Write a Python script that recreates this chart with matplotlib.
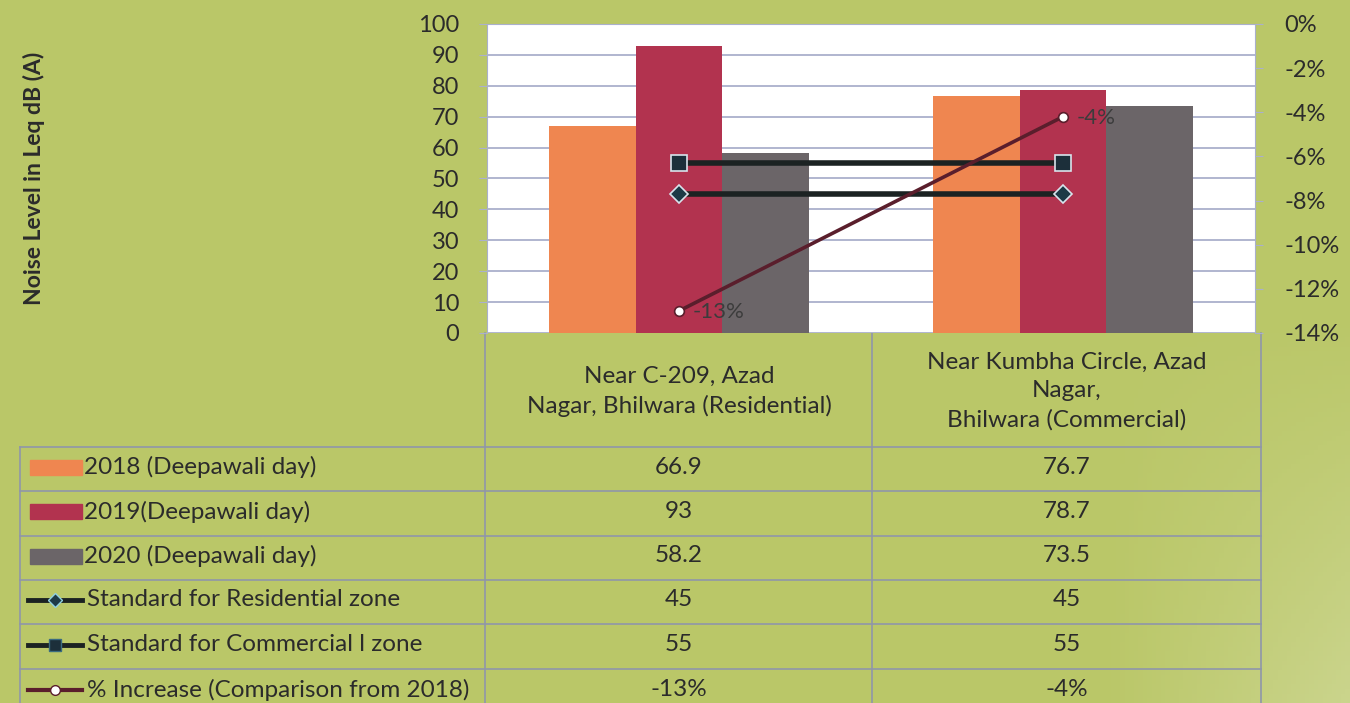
import numpy as np
import matplotlib.pyplot as plt
from matplotlib.patches import Rectangle

plt.rcParams['font.family'] = ['Lato', 'DejaVu Sans']

# data
sites = ["Near C-209, Azad\nNagar, Bhilwara (Residential)",
         "Near Kumbha Circle, Azad\nNagar,\nBhilwara (Commercial)"]
series_names = ["2018 (Deepawali day)", "2019(Deepawali day)", "2020 (Deepawali day)"]
noise_2018 = [66.9, 76.7]
noise_2019 = [93, 78.7]
noise_2020 = [58.2, 73.5]
std_residential = [45, 45]
std_commercial = [55, 55]
pct_increase = [-0.13, -0.042]
pct_labels = ["-13%", "-4%"]
line_names = ["Standard for Residential zone", "Standard for Commercial l zone",
              "% Increase (Comparison from 2018)"]
left_ticks = list(range(0, 101, 10))
right_ticks = [0, -0.02, -0.04, -0.06, -0.08, -0.10, -0.12, -0.14]

bar_colors = ['#ef8650', '#b2334f', '#6b6568']
txt = '#2b2b2b'
grid_c = '#aab0cc'
table_c = '#8f96aa'
fs_tab = 17.5

W, H = 1350, 703
fig = plt.figure(figsize=(W / 100, H / 100), dpi=100)

# background in pixel coordinates
bg = fig.add_axes([0, 0, 1, 1])
bg.set_xlim(0, W)
bg.set_ylim(H, 0)
bg.axis('off')
yy, xx = np.mgrid[0:1:150j, 0:1:300j]
base = np.array([186, 199, 104]) / 255
light = np.clip((xx - 0.82) * 3, 0, 1) * np.clip((yy - 0.45) * 1.8, 0, 1) * 0.45
img = base[None, None, :] * (1 - light[..., None]) + light[..., None]
bg.imshow(img, extent=[0, W, H, 0], aspect='auto', zorder=0)

# main chart
ax = fig.add_axes([487 / W, 1 - 333 / H, 768 / W, 309 / H])
ax.set_zorder(2)
ax.set_facecolor('white')
x = np.arange(len(sites))
w = 0.226
for i, vals in enumerate([noise_2018, noise_2019, noise_2020]):
    ax.bar(x + (i - 1) * w, vals, w, color=bar_colors[i], zorder=2)
ax.plot(x, std_commercial, color='#1b2222', lw=4, marker='s', ms=11,
        mfc='#1c2f3a', mec='#d8e4ec', mew=1.2, zorder=3)
ax.plot(x, std_residential, color='#1b2222', lw=4, marker='D', ms=9,
        mfc='#1d3a46', mec='#d8e4ec', mew=1.2, zorder=3)
ax.set_xlim(-0.5, 1.5)
ax.set_ylim(0, 100)
ax.set_yticks(left_ticks)
ax.set_yticklabels([str(v) for v in left_ticks], fontsize=17, color=txt)
ax.set_xticks([])
ax.grid(axis='y', color=grid_c, lw=1.3)
ax.set_axisbelow(True)
ax.tick_params(axis='y', length=6, color=grid_c, pad=14)
for s in ax.spines.values():
    s.set_color(grid_c)
ax.spines['bottom'].set_visible(False)
ax.set_ylabel("Noise Level in Leq dB (A)", fontsize=16.5, fontweight='bold', color=txt)
ax.yaxis.set_label_coords(-442 / 768, 0.5)

ax2 = ax.twinx()
ax2.plot(x, pct_increase, color='#5a1e2c', lw=2.6, marker='o', ms=7,
         mfc='white', mec='#5a1e2c', mew=1.2, zorder=4)
for xi, yi, lab in zip(x, pct_increase, pct_labels):
    ax2.annotate(lab, (xi, yi), xytext=(10, -1), textcoords='offset points',
                 va='center', ha='left', fontsize=16, color='#3c3c3c')
ax2.set_ylim(-0.14, 0)
ax2.set_yticks(right_ticks)
ax2.set_yticklabels([f"{v:.0%}" for v in right_ticks], fontsize=17, color=txt)
ax2.tick_params(axis='y', length=6, color=grid_c, pad=15)
for s in ax2.spines.values():
    s.set_visible(False)

# data table below the chart
col_x = [20, 485, 872, 1261]
col_c = [679, 1067]
row_lines = [447, 491, 536, 580, 624, 669, 714]
row_c = [(a + b) / 2 - 2 for a, b in zip(row_lines[:-1], row_lines[1:])]
lw_t = 1.2
for yl in row_lines:
    bg.plot([col_x[0], col_x[-1]], [yl, yl], color=table_c, lw=lw_t, zorder=1)
bg.plot([col_x[0], col_x[0]], [row_lines[0], H], color=table_c, lw=lw_t, zorder=1)
for xv in col_x[1:]:
    bg.plot([xv, xv], [333, H], color=table_c, lw=lw_t, zorder=1)

for j, s in enumerate(sites):
    bg.text(col_c[j], 391, s, ha='center', va='center', fontsize=fs_tab,
            color=txt, linespacing=1.45, zorder=2)

bar_rows = [noise_2018, noise_2019, noise_2020]
for i, vals in enumerate(bar_rows):
    yc = row_c[i]
    bg.add_patch(Rectangle((30, yc - 7.5), 52, 15, color=bar_colors[i], zorder=2))
    bg.text(84, yc, series_names[i], ha='left', va='center', fontsize=fs_tab, color=txt, zorder=2)
    for j, v in enumerate(vals):
        bg.text(col_c[j], yc, f"{v:g}", ha='center', va='center', fontsize=fs_tab, color=txt, zorder=2)

line_rows = [std_residential, std_commercial]
keys = [dict(marker='D', ms=7, mfc='#1d3a46', mec='#8fd0e0', color='#1b2222', lw=3.5),
        dict(marker='s', ms=9, mfc='#1c2f3a', mec='#3a6a80', color='#1b2222', lw=3.5),
        dict(marker='o', ms=7, mfc='white', mec='#5a1e2c', color='#5a1e2c', lw=3)]
for i in range(3):
    yc = row_c[3 + i]
    k = keys[i]
    bg.plot([28, 82], [yc, yc], color=k['color'], lw=k['lw'], zorder=2)
    bg.plot([55], [yc], zorder=3, linestyle='none', marker=k['marker'], ms=k['ms'],
            mfc=k['mfc'], mec=k['mec'])
    bg.text(87, yc, line_names[i], ha='left', va='center', fontsize=fs_tab, color=txt, zorder=2)
    if i < 2:
        vals = [f"{v:g}" for v in line_rows[i]]
    else:
        vals = pct_labels
    for j, v in enumerate(vals):
        bg.text(col_c[j], yc, v, ha='center', va='center', fontsize=fs_tab, color=txt, zorder=2)

fig.savefig('out.png', dpi=100)
